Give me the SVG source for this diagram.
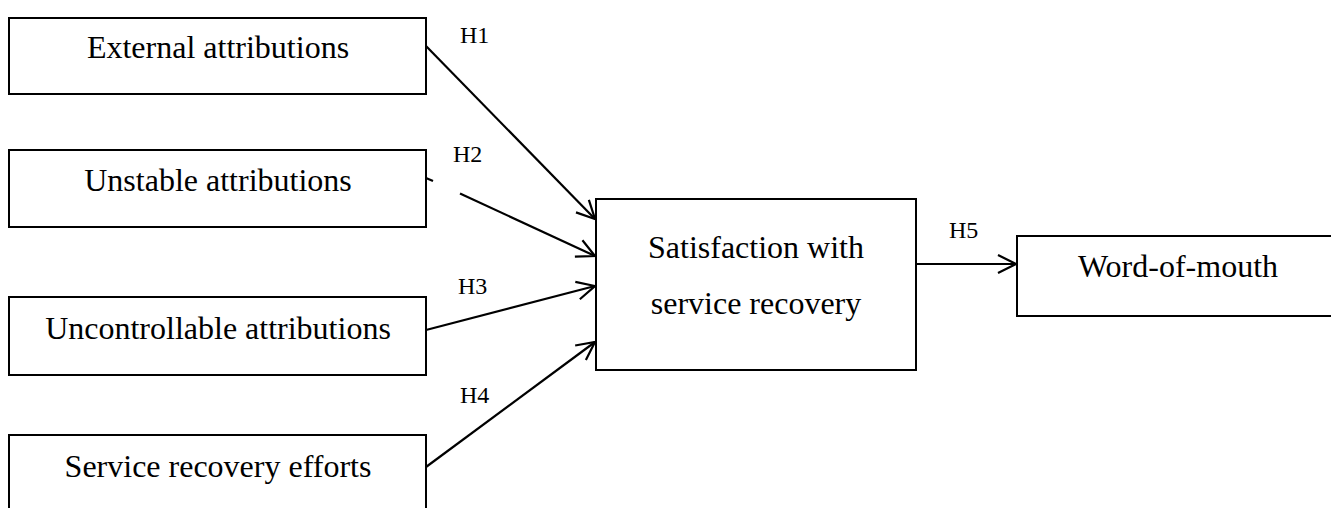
<svg xmlns="http://www.w3.org/2000/svg" width="1331" height="508" viewBox="0 0 1331 508">
<style>
.box{fill:#fff;stroke:#000;stroke-width:2}
.t{font-family:"Liberation Serif","Times New Roman",serif;font-size:32px;fill:#000;text-anchor:middle}
.lbl{font-family:"Liberation Serif","Times New Roman",serif;font-size:24px;fill:#000}
.c{fill:none;stroke:#000;stroke-width:2.2}
</style>
<defs>
<marker id="ah" markerUnits="userSpaceOnUse" viewBox="-22 -12 26 24" markerWidth="26" markerHeight="24" refX="0" refY="0" orient="auto">
<path d="M-18,-9 L0,0 L-18,9" fill="none" stroke="#000" stroke-width="2.2"/>
</marker>
</defs>
<rect width="1331" height="508" fill="#fff"/>
<g id="connectors">
<line class="c" x1="426" y1="46" x2="595" y2="219" marker-end="url(#ah)"/>
<line class="c" x1="426" y1="178" x2="433" y2="181"/>
<line class="c" x1="460" y1="193.5" x2="595" y2="256" marker-end="url(#ah)"/>
<line class="c" x1="426" y1="330" x2="595" y2="286" marker-end="url(#ah)"/>
<line class="c" x1="426" y1="467" x2="595" y2="342" marker-end="url(#ah)"/>
<line class="c" x1="916" y1="264" x2="1016" y2="264" marker-end="url(#ah)"/>
<text class="lbl" x="460" y="43">H1</text>
<text class="lbl" x="453" y="162">H2</text>
<text class="lbl" x="458" y="294">H3</text>
<text class="lbl" x="460" y="403">H4</text>
<text class="lbl" x="949" y="238">H5</text>
</g>
<g id="external">
<rect class="box" x="9" y="18" width="417" height="76"/>
<text class="t" x="218" y="58">External attributions</text>
</g>
<g id="unstable">
<rect class="box" x="9" y="150" width="417" height="77"/>
<text class="t" x="218" y="191">Unstable attributions</text>
</g>
<g id="uncontrollable">
<rect class="box" x="9" y="297" width="417" height="78"/>
<text class="t" x="218" y="339">Uncontrollable attributions</text>
</g>
<g id="efforts">
<rect class="box" x="9" y="435" width="417" height="85"/>
<text class="t" x="218" y="477">Service recovery efforts</text>
</g>
<g id="satisfaction">
<rect class="box" x="596" y="199" width="320" height="171"/>
<text class="t" x="756" y="258">Satisfaction with</text>
<text class="t" x="756" y="314">service recovery</text>
</g>
<g id="wom">
<rect class="box" x="1017" y="236" width="330" height="80"/>
<text class="t" x="1178" y="277">Word-of-mouth</text>
</g>
</svg>
